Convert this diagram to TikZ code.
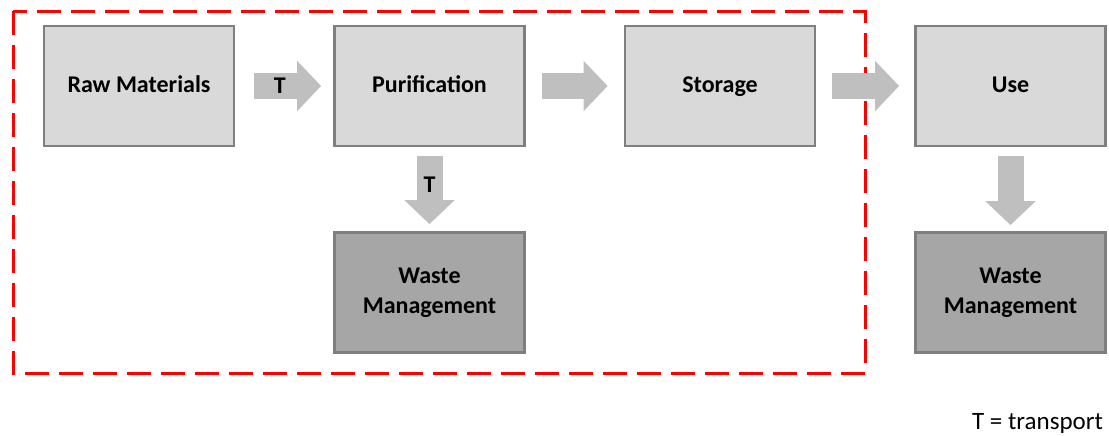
\documentclass[tikz,border=0pt]{standalone}
\usepackage{fontspec}
\setmainfont{Carlito}
\usetikzlibrary{arrows.meta}

\definecolor{boxlight}{HTML}{D9D9D9}
\definecolor{boxdark}{HTML}{A6A6A6}
\definecolor{boxline}{HTML}{7F7F7F}
\definecolor{arrowgray}{HTML}{BFBFBF}

\begin{document}
\begin{tikzpicture}[x=0.5pt, y=-0.5pt,
    boxbase/.style={draw=boxline, line width=1.4pt, minimum width=95pt, minimum height=60pt, align=center, font=\bfseries\fontsize{12}{15}\selectfont},
    stage/.style={boxbase, fill=boxlight, text height=0.9em, text depth=0.26em},
    waste/.style={boxbase, fill=boxdark},
    flow/.style={draw=arrowgray, line width=13pt, -{Triangle[length=12pt, width=24.5pt]}},
    tlabel/.style={font=\bfseries\fontsize{12}{15}\selectfont}]
    \useasboundingbox (0,0) rectangle (1109,435);
    % system boundary
    \draw[red, line width=1.5pt, dash pattern=on 12pt off 5pt] (13,11) rectangle (865,373);
    \node[stage] (raw) at (139,86) {Raw Materials};
    \node[stage] (puri) at (429.5,86) {Purification};
    \node[stage] (stor) at (720,86) {Storage};
    \node[stage] (use) at (1010.5,86) {Use};
    \node[waste] (wasteA) at (429.5,292.5) {Waste\\Management};
    \node[waste] (wasteB) at (1010.5,292.5) {Waste\\Management};
    \draw[flow, shorten <=9.5pt, shorten >=6pt] (raw) -- node[tlabel, pos=0.455] {T} (puri);
    \draw[flow, shorten <=8pt, shorten >=8pt] (puri) -- (stor);
    \draw[flow, shorten <=8pt, shorten >=7.5pt] (stor) -- (use);
    \draw[flow, shorten <=4.5pt, shorten >=3.5pt] (puri) -- node[tlabel, pos=0.44] {T} (wasteA);
    \draw[flow, shorten <=4.5pt, shorten >=3pt] (use) -- (wasteB);
    \node[anchor=east, font=\fontsize{12.5}{15}\selectfont] (legend) at (1110,423) {T = transport};
\end{tikzpicture}
\end{document}
